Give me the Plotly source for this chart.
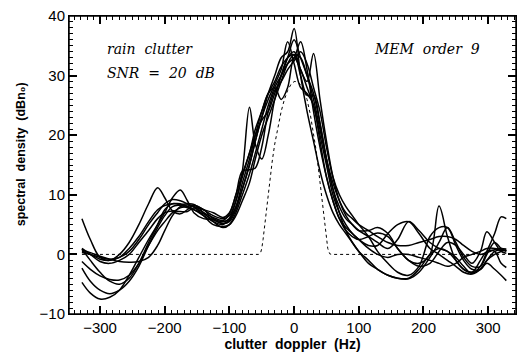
import plotly.graph_objects as go

freq = [-328, -315, -300, -285, -270, -255, -240, -225, -211, -200,
        -188, -176, -165, -155, -140, -125, -110, -100, -90, -80,
        -69, -60, -50, -40, -30, -20, -10, 0, 10, 20,
        30, 40, 50, 60, 70, 80, 90, 100, 115, 129,
        145, 160, 177, 193, 210, 224, 237, 250, 262, 275,
        288, 298, 310, 320, 328]

est1 = [6, 2.5, -0.5, -1, 0, 2, 5, 8.5, 11.2, 9.5,
        7.3, 6.8, 7.5, 8.2, 7.5, 6, 5.5, 6, 8, 11,
        15, 19, 23, 26, 28.5, 31, 35.7, 32, 28, 27,
        25, 19, 13, 9, 6, 4.5, 3.5, 2.5, 1.5, 1.5,
        3.5, 5, 5.5, 3.5, 1, 0, -1, -2, -3, -3.3,
        -2.5, -1, 0, 0.5, 0.8]
est2 = [-4.7, -6.5, -7.5, -7.2, -6, -3.5, -0.5, 2.5, 5, 7,
        9.5, 10.8, 9, 7, 6, 5.8, 5.2, 5.5, 7.5, 11,
        15, 19, 23, 27, 30, 33, 34, 37.9, 30, 24,
        19, 14, 10, 7, 5, 3.5, 2, 0.5, -1.5, -2.5,
        -3.5, -4, -4.1, -3, -0.5, 2, 4.5, 2, -0.5, -2,
        -2, 0, 2, 1, 0.5]
est3 = [-2.3, -4.5, -6, -6.6, -6, -4.5, -2, 1.5, 4.5, 6.5,
        8, 8.3, 8.5, 8.4, 7, 5.5, 4.5, 5, 7, 10,
        13.5, 17, 21, 25, 28, 30, 32, 33, 35.7, 31,
        24, 18, 13, 9, 6, 4, 3, 2.5, 3, 3.6,
        3, 1, -1, -1.5, 0, 8.1, 3, -1, -2.5, -3,
        -1, 0.5, 0.5, -1.5, -2.2]
est4 = [-1.2, -2.5, -3.6, -4.2, -4.3, -3.5, -1.5, 1.5, 4, 5.5,
        7, 7.8, 8, 8.3, 7.5, 6.5, 6, 6.5, 9, 14,
        24.7, 18.5, 16, 20, 26, 30, 33, 34, 31, 29,
        33.7, 26, 19, 13, 9, 6.5, 5, 4, 4, 4.5,
        3.5, 1, -1, -2, -1.5, 0.5, 2, 1.5, 0, -1.5,
        0.5, 3.8, 2, 0.5, 0.2]
est5 = [0.7, 0.3, -0.3, -0.8, -1.2, -1.3, -1.2, -0.5, 1.5, 4,
        6.5, 8, 8.3, 8, 6.5, 5, 4.7, 5, 6.5, 9,
        12, 16, 20, 23, 26, 29, 32, 33.5, 33, 30,
        27, 22, 16, 11, 8, 6, 5, 4, 3, 2,
        1, 2.5, 5.5, 4, 2, 1, 0.5, -0.5, -2, -3.2,
        -2, 0.5, 3.5, 6.3, 6]
est6 = [0.5, 0, -0.8, -1, -0.5, 1, 3, 5.5, 7.5, 8.2,
        8.5, 8.5, 8, 7.5, 6.5, 5.5, 5, 6, 9, 13,
        17, 20, 22.5, 24, 27, 30, 33, 36, 33, 30,
        26, 21, 16, 12, 9, 7, 6, 5, 4, 3,
        2, 1.5, 1.5, 2, 2.5, 3, 3, 2.5, 1.5, 0.5,
        0, 0.3, 0.8, 1, 0.9]
est7 = [0.3, 0, -0.5, -0.8, -0.5, 0.5, 2.5, 5, 7, 8.5,
        9.2, 9, 8.5, 8, 7.5, 7, 6.2, 7, 10, 14,
        14.2, 14.5, 18, 24, 27.5, 29, 31, 32.5, 34, 32,
        28, 24, 18, 13, 10, 8, 6.5, 5, 3, 0.5,
        -1.5, -3, -3.5, -2, 3, 4.5, 4.5, 1.5, -1, -2.5,
        -2.5, -1, 0.5, 0.8, 0.6]
est8 = [1, 0, -1.2, -1.5, -1, 0, 2, 4, 6, 7,
        7.3, 7.2, 7.2, 7.8, 7, 6.2, 5.7, 6.8, 10, 13.5,
        17, 21, 24, 27, 28, 26, 28, 33, 31, 28,
        25, 20, 15, 10, 7, 5, 3.5, 2.5, 1, 0,
        -0.5, 0, 0, -0.5, -1, -1.5, -2, -1.5, -0.5, 0,
        0.5, 1, 1, 0.7, 0.6]
est9 = [0.9, -1, -3, -4.5, -5, -4, -1.5, 2, 5, 7.5,
        8.5, 8.3, 7.8, 7.5, 6.8, 5.8, 5.2, 5.7, 8, 12,
        16, 20, 24, 27, 29, 31.5, 33, 33.5, 30, 26.7,
        26.7, 22, 16, 11, 7, 4, 2, 0.5, -1, -2.5,
        -3.5, -4, -4, -2.5, 0, 1, 0.5, -1, -2.5, -3,
        -2.5, -1.5, -2.5, -3.5, -4.4]

estimates = [est1, est2, est3, est4, est5, est6, est7, est8, est9]

true_freq = [-328, -55, -52, -50, -48, -46, -44, -42, -40, -37, -34, -30, -25,
             -20, -15, -10, -5, 0, 5, 10, 15, 20, 25, 30, 34, 38, 41, 44,
             47, 50, 52, 55, 58, 328]
true_psd = [0, 0, 0.2, 1, 2.5, 4.5, 6.5, 8.5, 10.5, 13, 15.5, 18.5, 21.5,
            24, 26, 27.5, 28.5, 29, 29, 28.5, 27.5, 26, 23.5, 20.5, 17.5, 14, 11, 8,
            5, 2.5, 1, 0.1, 0, 0]

fig = go.Figure()
fig.add_trace(go.Scatter(x=true_freq, y=true_psd, mode="lines",
                         line=dict(color="black", width=1, dash="dot"),
                         showlegend=False))
for est in estimates:
    fig.add_trace(go.Scatter(x=freq, y=est, mode="lines",
                             line=dict(color="black", width=1.5, shape="spline", smoothing=1.0),
                             showlegend=False))

tick_font = dict(family="Liberation Sans, Arial", size=15, color="black")

fig.update_xaxes(range=[-348, 343], showline=True, linecolor="black",
                 mirror="ticks", gridcolor="white", zerolinecolor="white",
                 ticks="inside", ticklen=8, tickcolor="black", tickwidth=1.5, dtick=100,
                 minor=dict(ticks="inside", ticklen=4, tickcolor="black", dtick=10, tickwidth=1.2),
                 tickfont=tick_font,
                 title=dict(text="clutter  doppler  (Hz)",
                            font=dict(family="Liberation Sans, Arial", size=14,
                                      color="black", weight="bold"),
                            standoff=4))
fig.update_yaxes(range=[-10, 40], showline=True, linecolor="black",
                 mirror="ticks", gridcolor="white", zerolinecolor="white",
                 ticks="inside", ticklen=8, tickcolor="black", tickwidth=1.5, dtick=10,
                 minor=dict(ticks="inside", ticklen=4, tickcolor="black", dtick=1, tickwidth=1.2),
                 tickfont=tick_font)

fig.add_shape(type="rect", xref="paper", yref="paper", x0=0, y0=0, x1=1, y1=1,
              line=dict(color="black", width=1.5), layer="above")

ann_font = dict(family="DejaVu Serif, Liberation Serif", size=14, color="black", style="italic")
fig.add_annotation(x=-0.108, y=0.535, xref="paper", yref="paper",
                   text="spectral  density  (dBn\u2080)", textangle=-90,
                   showarrow=False, xanchor="center", yanchor="middle",
                   font=dict(family="Liberation Sans, Arial", size=12.5, color="black",
                             weight="bold"))
fig.add_annotation(x=0.08, y=0.89, xref="paper", yref="paper", text="rain  clutter",
                   showarrow=False, font=ann_font, xanchor="left", yanchor="middle")
fig.add_annotation(x=0.08, y=0.81, xref="paper", yref="paper", text="SNR  =  20  dB",
                   showarrow=False, font=ann_font, xanchor="left", yanchor="middle")
fig.add_annotation(x=0.925, y=0.89, xref="paper", yref="paper", text="MEM  order  9",
                   showarrow=False, font=ann_font, xanchor="right", yanchor="middle")

fig.update_layout(width=518, height=356, margin=dict(l=69, r=2, t=16, b=42),
                  paper_bgcolor="white", plot_bgcolor="white")
fig.write_html("out.html", config={"displayModeBar": False})
